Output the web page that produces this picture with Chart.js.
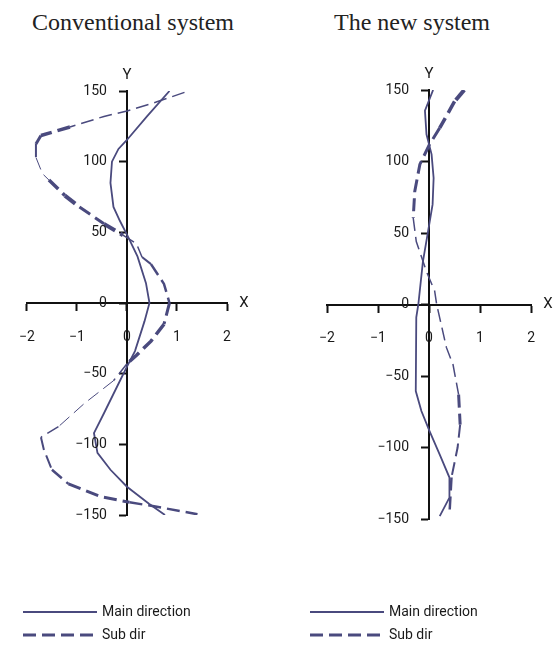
<!doctype html>
<html>

<head>
    <meta charset="UTF-8">
    <title>Main direction / Sub dir</title>
    <script src="https://cdn.jsdelivr.net/npm/chart.js"></script>

    <style>
        body {
            margin: 0;
            background-color: #fff;
        }

        .pagina {
            position: relative;
            width: 554px;
            height: 645px;
            overflow: hidden;
        }

        .titulo {
            position: absolute;
            top: 10px;
            font-family: "Liberation Serif", "DejaVu Serif", serif;
            font-size: 24px;
            line-height: 24px;
            color: #222;
            white-space: nowrap;
            transform: translateX(-50%);
        }

        canvas {
            position: absolute;
            top: 0;
        }
    </style>
</head>

<body>

    <div class="pagina">
        <div class="titulo" style="left: 133px;">Conventional system</div>
        <div class="titulo" style="left: 412px;">The new system</div>
        <canvas id="convencional" width="277" height="645" style="left: 0;"></canvas>
        <canvas id="novo" width="277" height="645" style="left: 277px;"></canvas>
    </div>

    <script>
        // conventional system: height (Y) and displacement (X)
        var convMainY = [150, 132, 115, 109, 100, 85, 68, 58, 47, 33, 14, 0, -13, -34, -45, -55, -78, -92, -106, -118, -130, -142, -150];
        var convMainX = [0.85, 0.40, -0.01, -0.17, -0.30, -0.33, -0.27, -0.14, 0.02, 0.21, 0.38, 0.45, 0.35, 0.16, 0, -0.14, -0.46, -0.66, -0.59, -0.33, 0, 0.44, 0.76];

        var convSubY = [149, 142, 136, 132, 124.5, 118.5, 112.5, 103, 91.5, 87, 76, 68, 56, 48, 42, 32.5, 27.5, 13.5, 0, -15, -27, -37, -43, -55, -71, -87.5, -95, -104, -118, -128, -137, -141, -144, -149.5];
        var convSubX = [1.15, 0.57, 0.02, -0.46, -1.14, -1.72, -1.82, -1.82, -1.69, -1.56, -1.24, -0.95, -0.46, -0.08, 0.19, 0.30, 0.48, 0.74, 0.85, 0.74, 0.48, 0.19, 0, -0.27, -0.85, -1.37, -1.72, -1.66, -1.50, -1.17, -0.53, 0.05, 0.57, 1.41];

        // new system
        var newMainY = [150, 135.5, 119, 105, 88.5, 70, 51, 30, 0, -9, -60.5, -74.5, -88.5, -105, -121, -135, -148];
        var newMainX = [0.08, -0.08, -0.05, 0.05, 0.09, 0.07, -0.02, -0.12, -0.21, -0.25, -0.26, -0.15, 0.01, 0.21, 0.40, 0.40, 0.21];

        var newSubY = [150, 142, 123.5, 112, 98, 79, 60.5, 44, 23, 9.5, 0, -30, -42, -63, -84, -100, -121, -147];
        var newSubX = [0.69, 0.50, 0.21, 0.01, -0.18, -0.28, -0.31, -0.25, -0.05, 0.11, 0.15, 0.34, 0.47, 0.58, 0.61, 0.56, 0.44, 0.40];

        var xTicks = [-2, -1, 0, 1, 2];
        var yTicks = [-150, -100, -50, 0, 50, 100, 150];

        // pen width of each dashed segment (the scanned dashes are uneven)
        var convSubPen = [1.5, 1.5, 1.5, 1.5, 3.5, 3, 2, 1, 1, 3.5, 4, 3, 4, 1.5, 1.5, 2, 2.5, 2.5, 3, 3.5, 3.5, 3.5, 1.5, 1, 1, 1.5, 2, 2, 2.5, 3, 3, 2.5, 2.5];
        var newSubPen = [4, 3.5, 3, 3, 3, 3, 1.5, 1.5, 1.5, 1.5, 1.5, 1.5, 1.5, 3, 2, 2, 2.5];

        var corLinha = '#4a4a7e';
        var fonte = 'Roboto, "Liberation Sans", sans-serif';

        function pontos(xs, ys) {
            return xs.map((x, i) => ({ x: x, y: ys[i] }));
        }

        function menos(v) {
            return String(v).replace('-', '\u2212');
        }

        // y tick labels (left of the centred axis), axis letters and the legend
        var extras = {
            id: 'extras',
            afterDraw: function (chart, args, opts) {
                var ctx = chart.ctx;
                var sx = chart.scales.x;
                var sy = chart.scales.y;
                var x0 = sx.getPixelForValue(0);
                var y0 = sy.getPixelForValue(0);

                ctx.save();
                ctx.fillStyle = '#1a1a1a';
                ctx.font = '14px ' + fonte;
                ctx.textAlign = 'right';
                ctx.textBaseline = 'middle';
                sy.ticks.forEach(t => {
                    ctx.fillText(menos(t.value), x0 - 20, sy.getPixelForValue(t.value));
                });

                ctx.font = '15px ' + fonte;
                ctx.textAlign = 'center';
                ctx.fillText('Y', x0, sy.top - 16);
                ctx.fillText('X', sx.right + 17, y0);

                ctx.font = '14px ' + fonte;
                ctx.textAlign = 'left';
                chart.data.datasets.forEach((ds, i) => {
                    var ly = opts.legendY + i * 23;
                    ctx.beginPath();
                    ctx.strokeStyle = ds.borderColor;
                    ctx.lineWidth = i == 0 ? 2 : 3;
                    ctx.setLineDash(ds.borderDash || []);
                    ctx.moveTo(opts.legendX, ly);
                    ctx.lineTo(opts.legendX + 74, ly);
                    ctx.stroke();
                    ctx.setLineDash([]);
                    ctx.fillText(ds.label, opts.legendX + 79, ly);
                });
                ctx.restore();
            }
        };

        function escala(min, max, pos, pad, lista, mostrar) {
            return {
                type: 'linear',
                min: min,
                max: max,
                position: pos,
                afterBuildTicks: s => { s.ticks = lista.map(v => ({ value: v })); },
                afterFit: s => { s.width = 0; s.height = 0; },
                ticks: {
                    display: mostrar,
                    padding: pad,
                    color: '#1a1a1a',
                    font: { family: fonte, size: 14 },
                    callback: v => menos(v)
                },
                grid: {
                    drawOnChartArea: false,
                    drawTicks: true,
                    tickLength: 7,
                    tickWidth: 2,
                    tickColor: '#111'
                },
                border: { display: true, color: '#111', width: 2 }
            };
        }

        function criarGrafico(id, mainX, mainY, subX, subY, pen, area, legenda) {
            return new Chart(document.getElementById(id), {
                type: 'scatter',
                data: {
                    datasets: [{
                        label: 'Main direction',
                        data: pontos(mainX, mainY),
                        showLine: true,
                        borderColor: corLinha,
                        borderWidth: 1.8,
                        pointRadius: 0
                    }, {
                        label: 'Sub dir',
                        data: pontos(subX, subY),
                        showLine: true,
                        borderColor: corLinha,
                        borderWidth: 2,
                        borderDash: [13, 6],
                        pointRadius: 0,
                        segment: {
                            borderWidth: ctx => pen[ctx.p0DataIndex]
                        }
                    }]
                },
                options: {
                    responsive: false,
                    animation: false,
                    layout: { padding: area },
                    plugins: {
                        legend: { display: false },
                        tooltip: { enabled: false },
                        extras: legenda
                    },
                    scales: {
                        x: escala(-2, 2, { y: 0 }, 19, xTicks, true),
                        y: escala(-150, 150, { x: 0 }, 13, yTicks, false)
                    }
                },
                plugins: [extras]
            });
        }

        criarGrafico('convencional', convMainX, convMainY, convSubX, convSubY, convSubPen,
            { left: 19, right: 50, top: 91, bottom: 130 },
            { legendX: 23, legendY: 612 });

        criarGrafico('novo', newMainX, newMainY, newSubX, newSubY, newSubPen,
            { left: 50, right: 22, top: 90, bottom: 126 },
            { legendX: 33, legendY: 612 });
    </script>
</body>

</html>
